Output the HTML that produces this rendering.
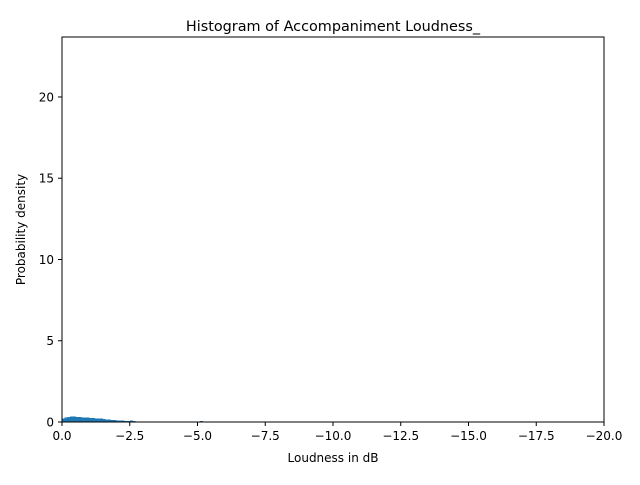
<!DOCTYPE html>
<html><head><meta charset="utf-8"><style>
body{margin:0;background:#fff;font-family:"Liberation Sans","DejaVu Sans",sans-serif}
</style></head><body>
<svg id="chart" width="640" height="480" xmlns="http://www.w3.org/2000/svg" font-family="DejaVu Sans, Liberation Sans, sans-serif">
<rect width="640" height="480" fill="#fff"/>
<g id="bars" shape-rendering="crispEdges"></g>
<g id="axes"></g>
<text x="333" y="31" font-size="14.4" text-anchor="middle">Histogram of Accompaniment Loudness_</text>
<text x="333" y="462" font-size="12" text-anchor="middle">Loudness in dB</text>
<text transform="translate(25,229.5) rotate(-90)" font-size="12" text-anchor="middle">Probability density</text>
</svg>
<script>
const binStarts=[0,-0.1,-0.2,-0.3,-0.4,-0.5,-0.6,-0.7,-0.8,-0.9,-1.0,-1.1,-1.2,-1.3,-1.4,-1.5,-1.6,-1.7,-1.8,-1.9,-2.0,-2.1,-2.2,-2.3,-2.4,-2.5,-2.6,-2.7,-2.8,-2.9,-3.0,-3.2,-3.4,-3.6,-3.8,-4.0,-4.2,-4.4,-4.6,-4.8,-5.0,-5.1];
const densities=[0.22,0.28,0.32,0.35,0.33,0.3,0.3,0.29,0.28,0.27,0.26,0.24,0.23,0.21,0.2,0.18,0.16,0.14,0.13,0.12,0.1,0.09,0.08,0.07,0.06,0.1,0.05,0.04,0.03,0.03,0.02,0.02,0.02,0.02,0.02,0.02,0.02,0.02,0.02,0.01,0.0,0.06];
const binWidth=0.1;
const xTicks=[0,-2.5,-5,-7.5,-10,-12.5,-15,-17.5,-20];
const xTickLabels=["0.0","−2.5","−5.0","−7.5","−10.0","−12.5","−15.0","−17.5","−20.0"];
const yTicks=[0,5,10,15,20];
const L=62,R=604,T=37,B=422,xMin=0,xMax=-20,yMax=23.69;
const X=v=>L+(v-xMin)/(xMax-xMin)*(R-L);
const Y=v=>B-v/yMax*(B-T);
const NS="http://www.w3.org/2000/svg";
const bars=document.getElementById('bars'),axes=document.getElementById('axes');
function mk(tag,at,parent){const e=document.createElementNS(NS,tag);for(const k in at)e.setAttribute(k,at[k]);parent.appendChild(e);return e;}
binStarts.forEach((s,i)=>{
 const x1=X(s),x2=X(s-binWidth);
 const r=mk('rect',{x:x1,y:Y(densities[i]),width:x2-x1+0.3,height:B-Y(densities[i]),fill:'#1f77b4'},bars);
 
 
});
const frame=mk('rect',{x:L,y:T,width:R-L,height:B-T,fill:'none',stroke:'#000','stroke-width':1},axes);


xTicks.forEach((v,i)=>{
 const x=X(v);
 mk('line',{x1:x,x2:x,y1:B,y2:B+4,stroke:'#000','stroke-width':1},axes);
 const t=mk('text',{x:x,y:B+18,'font-size':12,'text-anchor':'middle'},axes);
 t.textContent=xTickLabels[i];
 
 
});
yTicks.forEach(v=>{
 const y=Y(v);
 mk('line',{x1:L-4,x2:L,y1:y,y2:y,stroke:'#000','stroke-width':1},axes);
 const t=mk('text',{x:L-8,y:y+4.5,'font-size':12,'text-anchor':'end'},axes);
 t.textContent=v;
 
 
});
</script>
</body></html>
